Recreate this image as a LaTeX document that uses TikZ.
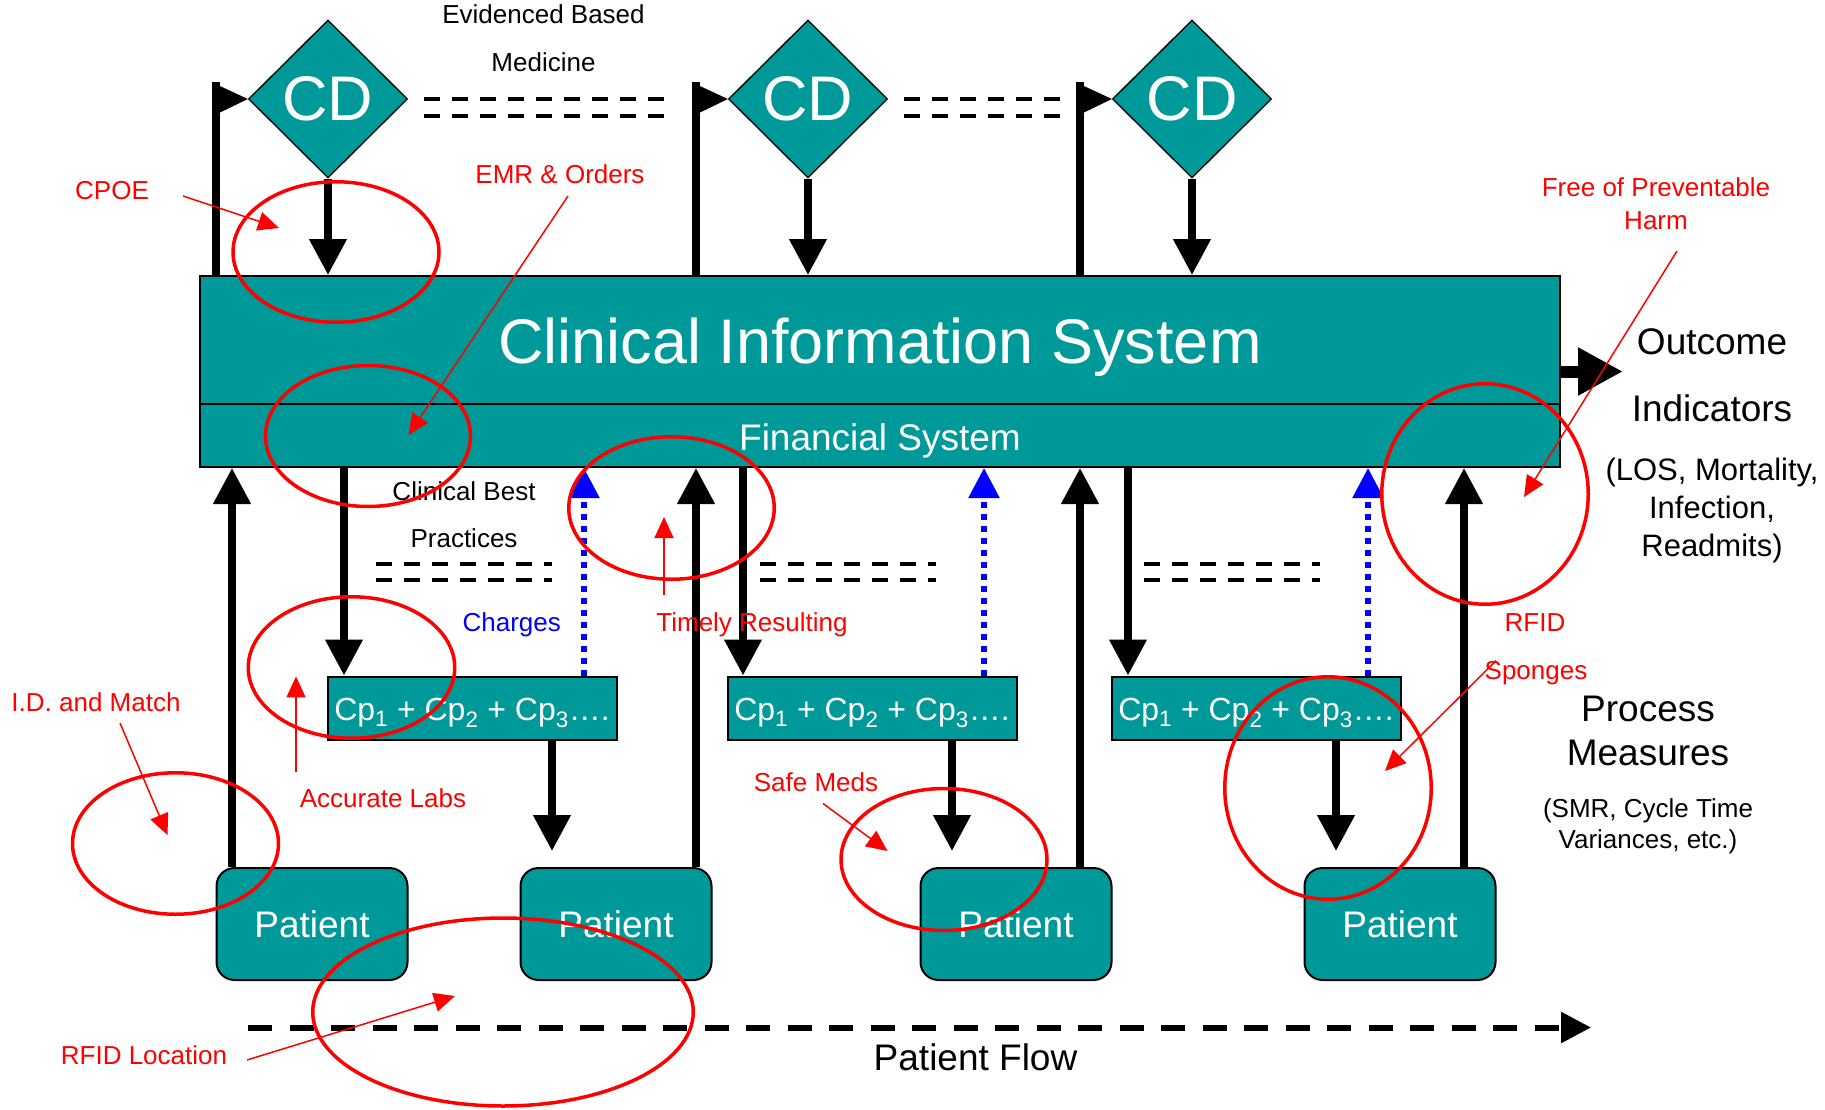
\documentclass[tikz,border=0pt]{standalone}
\usepackage{fontspec}
\setmainfont{Liberation Sans}
\usetikzlibrary{arrows.meta,shapes.geometric,calc}
\definecolor{cisteal}{HTML}{009999}
\begin{document}
\begin{tikzpicture}[x=1pt,y=-1pt,
  fs/.style={font=\fontsize{#1pt}{#1pt}\selectfont},
  panel/.style={rectangle,fill=cisteal,draw=black,line width=2pt,inner sep=0pt,text=white},
  cdbox/.style={diamond,fill=cisteal,draw=black,line width=1.3pt,minimum width=159pt,minimum height=158pt,inner sep=0pt,text=white,fs=63},
  cpbox/.style={panel,minimum width=289pt,minimum height=63pt,fs=32,text height=24pt,text depth=0pt},
  patbox/.style={panel,rounded corners=18pt,minimum width=191pt,minimum height=112pt,fs=37},
  flow/.style={line width=7.5pt,-{Triangle[length=36pt,width=36pt]}},
  pole/.style={line width=7.5pt},
  charge/.style={blue,line width=5.5pt,dash pattern=on 6pt off 6pt,-{Triangle[length=30pt,width=30pt]}},
  guide/.style={line width=4pt,dash pattern=on 16pt off 12pt},
  txt/.style={anchor=base,inner sep=0pt,fs=#1},
  tag/.style={anchor=base,inner sep=0pt,text=red,fs=26},
  ring/.style={ellipse,draw=red,line width=3.5pt,inner sep=0pt},
  pointer/.style={red,line width=1.5pt,-{Triangle[length=21pt,width=19pt]}},
]
\useasboundingbox (0,0) rectangle (1825,1110);

% ---- system boxes ----
\node[panel,minimum width=1360pt,minimum height=191pt] (cis) at (880,371.5) {};
\node[panel,minimum width=1360pt,minimum height=63pt] (fin) at (880,435.5) {};
\node[txt=63,text=white] (cisname) at (880,363) {Clinical Information System};
\node[txt=37,text=white] (finname) at (880,450) {Financial System};

% ---- clinical decision diamonds ----
\node[cdbox] (cd1) at (328,99) {CD};
\node[cdbox] (cd2) at (808,99) {CD};
\node[cdbox] (cd3) at (1192,99) {CD};

% ---- care process boxes ----
\node[cpbox] (cp1) at (472,708) {Cp\textsubscript{1} + Cp\textsubscript{2} + Cp\textsubscript{3}….};
\node[cpbox] (cp2) at (872,708) {Cp\textsubscript{1} + Cp\textsubscript{2} + Cp\textsubscript{3}….};
\node[cpbox] (cp3) at (1256,708) {Cp\textsubscript{1} + Cp\textsubscript{2} + Cp\textsubscript{3}….};

% ---- patients ----
\node[patbox] (p1) at (312,924) {Patient};
\node[patbox] (p2) at (616,924) {Patient};
\node[patbox] (p3) at (1016,924) {Patient};
\node[patbox] (p4) at (1400,924) {Patient};

% ---- column positions ----
\coordinate (pole1) at (216,82.5);
\coordinate (pole2) at (696,82.5);
\coordinate (pole3) at (1080,82.5);
\coordinate (up1) at (232,0);
\coordinate (up2) at (696,0);
\coordinate (up3) at (1080,0);
\coordinate (up4) at (1464,0);
\coordinate (dn1) at (344,0);
\coordinate (dn2) at (743,0);
\coordinate (dn3) at (1128,0);
\coordinate (bl1) at (584,0);
\coordinate (bl2) at (984,0);
\coordinate (bl3) at (1368,0);
\coordinate (ot1) at (552,0);
\coordinate (ot2) at (952,0);
\coordinate (ot3) at (1336,0);

% ---- flag poles ----
\foreach \i in {1,2,3}{
  \draw[pole] (cis.north -| pole\i) -- (pole\i);
  \fill ($(pole\i)+(-3.75,0)$) -- (cd\i.west) -- ($(pole\i)+(0,32)$) -- cycle;
  \draw[flow] (cd\i.south) -- (cd\i.south |- cis.north);
}

% ---- evidence links between decisions ----
\draw[guide] (424,99.3) -- (664,99.3);
\draw[guide] (424,116) -- (664,116);
\draw[guide] (904,99.3) -- (1060,99.3);
\draw[guide] (904,116) -- (1060,116);

% ---- best practice links ----
\draw[guide] (376,563.6) -- (552,563.6);
\draw[guide] (376,579.6) -- (552,579.6);
\draw[guide] (760,563.6) -- (936,563.6);
\draw[guide] (760,579.6) -- (936,579.6);
\draw[guide] (1144,563.6) -- (1320,563.6);
\draw[guide] (1144,579.6) -- (1320,579.6);

% ---- patient to system ----
\draw[flow] (p1.north -| up1) -- (cis.south -| up1);
\draw[flow] (p2.north -| up2) -- (cis.south -| up2);
\draw[flow] (p3.north -| up3) -- (cis.south -| up3);
\draw[flow] (p4.north -| up4) -- (cis.south -| up4);

% ---- system to care process ----
\draw[flow] (cis.south -| dn1) -- (cp1.north -| dn1);
\draw[flow] (cis.south -| dn2) -- (cp2.north -| dn2);
\draw[flow] (cis.south -| dn3) -- (cp3.north -| dn3);

% ---- care process to next patient ----
\draw[flow,shorten >=16pt] (cp1.south -| ot1) -- (p2.north -| ot1);
\draw[flow,shorten >=16pt] (cp2.south -| ot2) -- (p3.north -| ot2);
\draw[flow,shorten >=16pt] (cp3.south -| ot3) -- (p4.north -| ot3);

% ---- charges ----
\draw[charge] (cp1.north -| bl1) -- (cis.south -| bl1);
\draw[charge] (cp2.north -| bl2) -- (cis.south -| bl2);
\draw[charge] (cp3.north -| bl3) -- (cis.south -| bl3);

% ---- outcome arrow ----
\coordinate (outTip) at (1623,371.5);
\draw[line width=12pt,-{Triangle[length=45pt,width=45pt]}] (cis.east) -- (outTip);

% ---- patient flow ----
\coordinate (flowA) at (248,1027.5);
\coordinate (flowB) at (1591,1027.5);
\draw[line width=6pt,dash pattern=on 24pt off 17.5pt,-{Triangle[length=30pt,width=30pt]}] (flowA) -- (flowB);

% ---- black captions ----
\node[txt=26] (ebmA) at (543.5,23.5) {Evidenced Based};
\node[txt=26] (ebmB) at (543.5,72) {Medicine};
\node[txt=26] (cbpA) at (464,500.5) {Clinical Best};
\node[txt=26] (cbpB) at (464,547.6) {Practices};
\node[txt=37] (outA) at (1712,354) {Outcome};
\node[txt=37] (outB) at (1712,421) {Indicators};
\node[txt=31] (outC) at (1712,480.4) {(LOS, Mortality,};
\node[txt=31] (outD) at (1712,518.8) {Infection,};
\node[txt=31] (outE) at (1712,556.7) {Readmits)};
\node[txt=37] (procA) at (1648,721.4) {Process};
\node[txt=37] (procB) at (1648,765) {Measures};
\node[txt=26] (procC) at (1648,817) {(SMR, Cycle Time};
\node[txt=26] (procD) at (1648,848) {Variances, etc.)};
\node[txt=37] (flowname) at (975.5,1070.8) {Patient Flow};

% ---- highlight rings ----
\node[ring,minimum width=206pt,minimum height=140.5pt] (ringA) at (336,252) {};
\node[ring,minimum width=205pt,minimum height=141pt] (ringB) at (368,436) {};
\node[ring,minimum width=205.5pt,minimum height=142.5pt] (ringC) at (671.5,508) {};
\node[ring,minimum width=206.5pt,minimum height=141.5pt] (ringD) at (351.5,667.5) {};
\node[ring,minimum width=206pt,minimum height=141.5pt] (ringE) at (175.5,843.5) {};
\node[ring,minimum width=380.5pt,minimum height=188pt] (ringF) at (503,1012) {};
\node[ring,minimum width=206pt,minimum height=142pt] (ringG) at (944,859.5) {};
\node[ring,minimum width=206.5pt,minimum height=222.5pt] (ringH) at (1328,788) {};
\node[ring,minimum width=206.5pt,minimum height=220.5pt] (ringI) at (1485,494) {};

% ---- pointers ----
\coordinate (cpoeA) at (183,196);   \coordinate (cpoeB) at (279,228);
\coordinate (emrA) at (568,196);    \coordinate (emrB) at (408.5,435);
\coordinate (harmP) at (1677,251);  \coordinate (harmQ) at (1524,497);
\coordinate (timA) at (664,595);    \coordinate (timB) at (664,517);
\coordinate (labA) at (296,772);    \coordinate (labB) at (296,676.4);
\coordinate (idA) at (120,723);     \coordinate (idB) at (167.5,835);
\coordinate (locA) at (247,1060);   \coordinate (locB) at (455,996);
\coordinate (medA) at (823,803.5);  \coordinate (medB) at (887.5,851);
\coordinate (spgA) at (1496,660.7); \coordinate (spgB) at (1385,771);
\draw[pointer] (cpoeA) -- (cpoeB);
\draw[pointer] (emrA) -- (emrB);
\draw[pointer] (harmP) -- (harmQ);
\draw[pointer] (timA) -- (timB);
\draw[pointer] (labA) -- (labB);
\draw[pointer] (idA) -- (idB);
\draw[pointer] (locA) -- (locB);
\draw[pointer] (medA) -- (medB);
\draw[pointer] (spgA) -- (spgB);

% ---- red and blue tags ----
\node[tag] (cpoe) at (112,200) {CPOE};
\node[tag] (emr) at (560,184) {EMR \& Orders};
\node[tag] (harmA) at (1656,196.5) {Free of Preventable};
\node[tag] (harmB) at (1656,229.3) {Harm};
\node[tag,text=blue] (charges) at (511.7,631.8) {Charges};
\node[tag] (timely) at (752,631.8) {Timely Resulting};
\node[tag] (labs) at (383,807.7) {Accurate Labs};
\node[tag] (idm) at (96,711.8) {I.D. and Match};
\node[tag] (rfidloc) at (144,1064.5) {RFID Location};
\node[tag] (meds) at (816,791.7) {Safe Meds};
\node[tag] (rfidA) at (1535,631.4) {RFID};
\node[tag] (rfidB) at (1536,679) {Sponges};
\end{tikzpicture}
\end{document}
